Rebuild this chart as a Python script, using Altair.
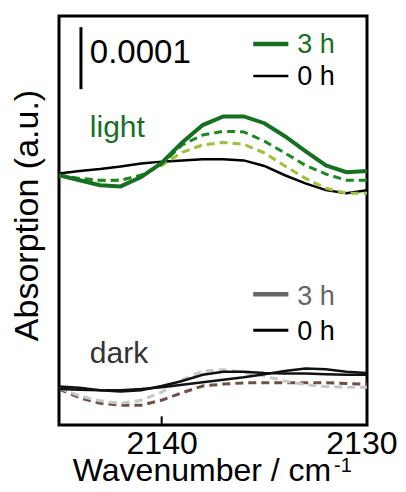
import altair as alt
import pandas as pd

# Wavenumber grid (cm^-1), left to right on the reversed axis
wavenumber = [2145, 2144, 2143, 2142, 2141, 2140, 2139, 2138,
              2137, 2136, 2135, 2134, 2133, 2132, 2131, 2130]

# Absorption in units of 1e-4 (offset traces)
light_0h = [4.06, 4.10, 4.13, 4.17, 4.22, 4.25, 4.27, 4.29,
            4.29, 4.27, 4.18, 4.03, 3.90, 3.79, 3.74, 3.79]
light_3h = [4.03, 3.95, 3.87, 3.85, 4.00, 4.23, 4.56, 4.84,
            4.98, 4.98, 4.87, 4.66, 4.42, 4.19, 4.08, 4.10]
light_mid1 = [4.03, 3.98, 3.95, 3.95, 4.03, 4.21, 4.52, 4.68,
              4.74, 4.73, 4.58, 4.39, 4.19, 4.05, 3.95, 3.95]
light_mid2 = [4.02, 3.97, 3.94, 3.95, 4.03, 4.19, 4.40, 4.52,
              4.56, 4.53, 4.39, 4.18, 3.98, 3.82, 3.74, 3.74]

dark_a = [0.62, 0.60, 0.56, 0.54, 0.56, 0.63, 0.71, 0.81,
          0.86, 0.86, 0.84, 0.83, 0.83, 0.82, 0.81, 0.81]
dark_b = [0.58, 0.57, 0.56, 0.56, 0.58, 0.61, 0.65, 0.69,
          0.73, 0.77, 0.82, 0.87, 0.91, 0.90, 0.86, 0.84]
dark_mid1 = [0.60, 0.47, 0.39, 0.35, 0.40, 0.53, 0.73, 0.87,
             0.89, 0.85, 0.79, 0.71, 0.65, 0.62, 0.61, 0.61]
dark_mid2 = [0.58, 0.44, 0.35, 0.32, 0.32, 0.40, 0.52, 0.63,
             0.66, 0.68, 0.68, 0.68, 0.68, 0.68, 0.67, 0.66]

x_ticks = [2140, 2130]

FONT = "Liberation Sans"
GREEN = "#15701f"

# (name, values, color, width, dashed)
series = [
    ("dark_mid2", dark_mid2, "#6e5048", 3, True),
    ("dark_mid1", dark_mid1, "#c8c8c8", 3, True),
    ("dark_a", dark_a, "#111111", 2.5, False),
    ("dark_b", dark_b, "#111111", 2.5, False),
    ("light_0h", light_0h, "#000000", 2.5, False),
    ("light_mid2", light_mid2, "#9dc23a", 3, True),
    ("light_mid1", light_mid1, "#1a8a22", 3, True),
    ("light_3h", light_3h, GREEN, 4, False),
]

xscale = alt.Scale(domain=[2145, 2130], nice=False, zero=False)
yscale = alt.Scale(domain=[0, 6.6], nice=False, zero=False)

xaxis = alt.Axis(values=x_ticks, format="d", grid=False, ticks=False, domain=False,
                 labelFont=FONT, labelFontSize=32, labelColor="black",
                 labelFlush=True, labelFlushOffset=30, labelOverlap=False,
                 labelPadding=3, labelBound=False,
                 title="Wavenumber / cm", titleFont=FONT, titleFontSize=32,
                 titleFontWeight="normal", titleColor="black",
                 titleX=142.5, titleY=55, titleAlign="center",
                 titleBaseline="alphabetic")
yaxis = alt.Axis(labels=False, ticks=False, domain=False, grid=False,
                 title="Absorption (a.u.)", titleFont=FONT, titleFontSize=34,
                 titleFontWeight="normal", titleColor="black",
                 titleX=-22, titleY=199, titleAngle=270, titleAlign="center",
                 titleBaseline="alphabetic")

layers = []
for name, vals, color, w, dashed in series:
    df = pd.DataFrame({"wn": wavenumber, "v": vals})
    kw = dict(color=color, strokeWidth=w, clip=True)
    if dashed:
        kw["strokeDash"] = [8, 5]
    layers.append(alt.Chart(df).mark_line(**kw).encode(
        x=alt.X("wn:Q", scale=xscale, axis=xaxis),
        y=alt.Y("v:Q", scale=yscale, axis=yaxis),
    ))

# inward tick at 2140
tick = alt.Chart(pd.DataFrame({"t": x_ticks})).mark_rule(color="black", strokeWidth=2).encode(
    x=alt.X("t:Q", axis=xaxis), y=alt.datum(0), y2=alt.datum(0.14))
layers.append(tick)

def txt(label, x, y, color, size):
    return alt.Chart().mark_text(align="left", baseline="alphabetic", font=FONT,
                                 fontSize=size, color=color).encode(
        x=alt.datum(x), y=alt.datum(y), text=alt.value(label))

def seg(x1, x2, y, color, w):
    return alt.Chart().mark_rule(color=color, strokeWidth=w).encode(
        x=alt.datum(x1), x2=alt.datum(x2), y=alt.datum(y))

# scale bar
layers.append(alt.Chart().mark_rule(color="black", strokeWidth=3).encode(
    x=alt.datum(2143.93), y=alt.datum(5.42), y2=alt.datum(6.42)))
layers.append(txt("0.0001", 2143.5, 5.84, "black", 33))

# labels
layers.append(txt("light", 2143.5, 4.65, GREEN, 30))
layers.append(txt("dark", 2143.5, 1.0, "#333333", 30))

# light legend
layers.append(seg(2135.54, 2133.83, 6.15, GREEN, 4.5))
layers.append(txt("3 h", 2133.4, 6.0, GREEN, 27))
layers.append(seg(2135.54, 2133.83, 5.63, "black", 2.5))
layers.append(txt("0 h", 2133.4, 5.48, "black", 27))

# dark legend
layers.append(seg(2135.54, 2133.83, 2.11, "#666666", 4.5))
layers.append(txt("3 h", 2133.4, 1.94, "#666666", 27))
layers.append(seg(2135.54, 2133.83, 1.53, "black", 3))
layers.append(txt("0 h", 2133.4, 1.37, "black", 27))

# superscript of the x title
layers.append(alt.Chart().mark_text(align="left", baseline="alphabetic", font=FONT,
                                    fontSize=20, color="black").encode(
    x=alt.value(275), y=alt.value(456), text=alt.value("-1")))

chart = alt.layer(*layers).properties(
    width=308, height=409,
    background="white",
    autosize=alt.AutoSizeParams(type="none"),
    padding={"left": 51, "top": 8, "right": 31, "bottom": 59},
).configure_view(stroke="black", strokeWidth=3)

chart.save("out.html", embed_options={"renderer": "svg", "actions": False})
